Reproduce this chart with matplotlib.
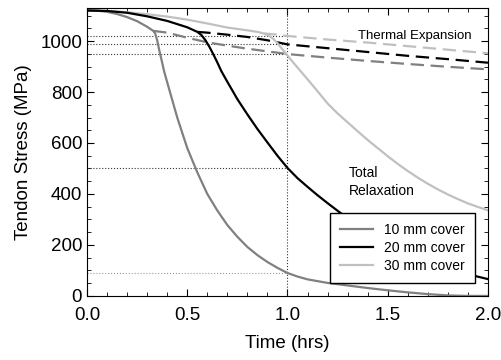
import numpy as np
import matplotlib
matplotlib.use("Agg")
import matplotlib.pyplot as plt
from matplotlib.ticker import MultipleLocator

plt.rcParams['font.family'] = ['Liberation Sans', 'DejaVu Sans']

# total relaxation curves (MPa vs hrs)
t_10 = [0, 0.05, 0.1, 0.15, 0.2, 0.25, 0.3, 0.33, 0.34, 0.35, 0.36, 0.372, 0.385, 0.4,
        0.45, 0.5, 0.55, 0.6, 0.65, 0.7, 0.75, 0.8, 0.85, 0.9,
        0.95, 1.0, 1.05, 1.1, 1.2, 1.3, 1.4, 1.5, 1.6, 1.7, 1.8, 1.9, 2.0]
s_10 = [1120, 1119, 1115, 1106, 1094, 1078, 1056, 1040, 1030, 1003, 965, 925, 880, 838,
        700, 580, 485, 400, 335, 278, 232, 192, 160, 133,
        110, 90, 76, 65, 51, 41, 31, 22, 14, 7, 2, 0, 0]

t_20 = [0, 0.1, 0.2, 0.3, 0.4, 0.5, 0.55, 0.57, 0.59, 0.61, 0.63, 0.65, 0.67, 0.7,
        0.75, 0.8, 0.85, 0.9, 0.95, 1.0, 1.05, 1.1, 1.15, 1.2, 1.25, 1.3, 1.4,
        1.5, 1.6, 1.7, 1.8, 1.9, 2.0]
s_20 = [1120, 1118, 1111, 1097, 1079, 1054, 1036, 1024, 1004, 978, 948, 916, 882, 840,
        772, 712, 655, 602, 550, 502, 462, 428, 395, 364, 334, 305, 250,
        203, 164, 132, 106, 85, 66]

t_30 = [0, 0.1, 0.2, 0.3, 0.4, 0.5, 0.6, 0.7, 0.8, 0.85, 0.88, 0.91, 0.93, 0.95,
        0.97, 0.985, 1.0, 1.025, 1.05, 1.1, 1.15, 1.2, 1.25, 1.3, 1.35, 1.4, 1.45,
        1.5, 1.55, 1.6, 1.65, 1.7, 1.75, 1.8, 1.85, 1.9, 1.95, 2.0]
s_30 = [1120, 1118, 1113, 1105, 1096, 1084, 1069, 1053, 1042, 1036, 1030, 1020, 1008, 992,
        972, 958, 943, 919, 896, 850, 803, 755, 716, 681, 646, 612, 580,
        548, 518, 490, 464, 440, 418, 398, 380, 363, 349, 336]

# thermal expansion only curves
tt_10 = [0.33, 0.4, 0.5, 0.6, 0.7, 0.8, 1.0, 1.2, 1.4, 1.6, 1.8, 2.0]
st_10 = [1040, 1033, 1013, 995, 982, 970, 949, 935, 922, 910, 899, 889]

tt_20 = [0.55, 0.6, 0.7, 0.8, 0.9, 1.0, 1.2, 1.4, 1.6, 1.8, 2.0]
st_20 = [1036, 1033, 1025, 1016, 1003, 987, 972, 957, 942, 929, 915]

tt_30 = [0.88, 0.95, 1.0, 1.2, 1.4, 1.6, 1.8, 2.0]
st_30 = [1030, 1025, 1020, 1006, 994, 980, 966, 952]

# values marked at t = 1 hr
marks = [1020, 987, 949, 503, 89]

c10, c20, c30 = '#808080', '#000000', '#c0c0c0'

fig = plt.figure(figsize=(5.01, 3.6), dpi=100)
ax = fig.add_axes([0.1737, 0.178, 0.8003, 0.8])

for m in marks:
    col = '#999999' if m < 100 else '#333333'
    ax.plot([0, 1.0], [m, m], color=col, ls=':', lw=0.8)
ax.plot([1.0, 1.0], [0, 1130], color='#333333', ls=':', lw=0.8)

ax.plot(tt_30, st_30, color=c30, ls=(0, (6, 3)), lw=1.6)
ax.plot(tt_10, st_10, color=c10, ls=(0, (6, 3)), lw=1.6)
ax.plot(tt_20, st_20, color=c20, ls=(0, (6, 3)), lw=1.6)

ax.plot(t_30, s_30, color=c30, lw=1.6, label='30 mm cover')
ax.plot(t_10, s_10, color=c10, lw=1.6, label='10 mm cover')
ax.plot(t_20, s_20, color=c20, lw=1.6, label='20 mm cover')

ax.set_xlim(0, 2.0)
ax.set_ylim(0, 1130)
ax.xaxis.set_major_locator(MultipleLocator(0.5))
ax.xaxis.set_minor_locator(MultipleLocator(0.1))
ax.yaxis.set_major_locator(MultipleLocator(200))
ax.yaxis.set_minor_locator(MultipleLocator(50))
ax.set_xticks([0, 0.5, 1.0, 1.5, 2.0])
ax.set_xticklabels(['0.0', '0.5', '1.0', '1.5', '2.0'])
ax.tick_params(which='both', direction='in', top=True, right=True, labelsize=13.5)
ax.tick_params(which='major', length=5)
ax.tick_params(which='minor', length=3)
ax.tick_params(axis='x', pad=8)

ax.set_xlabel('Time (hrs)', fontsize=13.5, labelpad=8)
ax.set_ylabel('Tendon Stress (MPa)', fontsize=13.5, labelpad=6)

ax.text(1.92, 1010, 'Thermal Expansion', fontsize=9.5, ha='right', va='baseline')
ax.text(1.305, 385, 'Total\nRelaxation', fontsize=10, ha='left', va='bottom',
        linespacing=1.3)

handles, labels = ax.get_legend_handles_labels()
order = [1, 2, 0]
leg = ax.legend([handles[i] for i in order], [labels[i] for i in order],
                loc='lower right', bbox_to_anchor=(0.9676, 0.045), borderaxespad=0,
                fontsize=10, fancybox=False, edgecolor='black', framealpha=1,
                handlelength=2.4, borderpad=0.7, labelspacing=0.3)
leg.get_frame().set_linewidth(1.0)

fig.savefig('out.png', dpi=100)
